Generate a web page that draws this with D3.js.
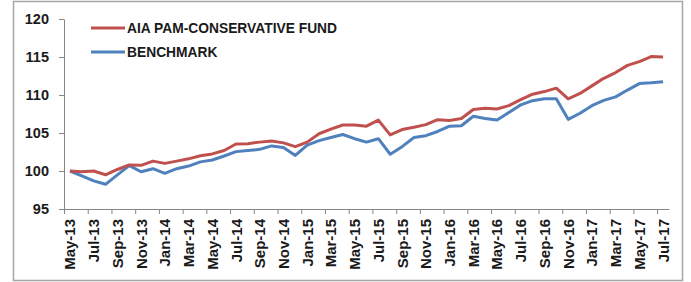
<!DOCTYPE html>
<meta charset="utf-8">
<title>AIA PAM-Conservative Fund</title>
<style>
body { margin: 0; background: #fff; }
#chart svg { display: block; font-family: "Liberation Sans", Arial, sans-serif; font-weight: bold; }
.axis path, .axis line { stroke: #868686; }
.axis text { fill: #1a1a1a; font-weight: bold; }
.line { fill: none; stroke-width: 3; stroke-linejoin: round; }
</style>
<body>
<div id="chart"></div>
<script src="https://cdn.jsdelivr.net/npm/d3@7"></script>
<script>
var months = ["May-13","Jun-13","Jul-13","Aug-13","Sep-13","Oct-13","Nov-13","Dec-13",
  "Jan-14","Feb-14","Mar-14","Apr-14","May-14","Jun-14","Jul-14","Aug-14","Sep-14","Oct-14","Nov-14","Dec-14",
  "Jan-15","Feb-15","Mar-15","Apr-15","May-15","Jun-15","Jul-15","Aug-15","Sep-15","Oct-15","Nov-15","Dec-15",
  "Jan-16","Feb-16","Mar-16","Apr-16","May-16","Jun-16","Jul-16","Aug-16","Sep-16","Oct-16","Nov-16","Dec-16",
  "Jan-17","Feb-17","Mar-17","Apr-17","May-17","Jun-17","Jul-17"];

var fund = [100.0, 99.9, 100.0, 99.5, 100.2, 100.8, 100.75, 101.3, 101.0, 101.3, 101.6, 102.0, 102.25,
  102.7, 103.55, 103.6, 103.8, 103.95, 103.7, 103.2, 103.8, 104.9, 105.5, 106.05, 106.05, 105.9, 106.7,
  104.75, 105.45, 105.75, 106.1, 106.75, 106.65, 106.9, 108.1, 108.25, 108.15, 108.6, 109.4, 110.1,
  110.45, 110.9, 109.5, 110.2, 111.2, 112.2, 112.95, 113.9, 114.4, 115.05, 115.0];

var bench = [100.0, 99.35, 98.7, 98.25, 99.5, 100.7, 99.9, 100.3, 99.7, 100.3, 100.65, 101.2, 101.45,
  101.97, 102.55, 102.7, 102.85, 103.3, 103.1, 102.05, 103.4, 104.0, 104.4, 104.8, 104.25, 103.8, 104.25,
  102.2, 103.2, 104.4, 104.65, 105.2, 105.9, 105.95, 107.2, 106.9, 106.7, 107.7, 108.7, 109.25,
  109.5, 109.5, 106.8, 107.6, 108.6, 109.3, 109.75, 110.65, 111.5, 111.6, 111.75];

var yTicks = [95, 100, 105, 110, 115, 120];

var series = [
  {name: "AIA PAM-CONSERVATIVE FUND", values: fund, color: "#C0504D"},
  {name: "BENCHMARK", values: bench, color: "#4F81BD"}
];

var width = 691, height = 282;
var svg = d3.select("#chart").append("svg")
    .attr("width", width)
    .attr("height", height);

// outer chart frame
svg.append("rect")
    .attr("x", 13.5).attr("y", 1.5)
    .attr("width", 669).attr("height", 279)
    .attr("fill", "#fff")
    .attr("stroke", "#a6a6a6")
    .attr("stroke-width", 1.5);

var x = d3.scaleLinear()
    .domain([-0.5, months.length - 0.5])
    .range([64, 669]);

var y = d3.scaleLinear()
    .domain([95, 120])
    .range([209, 19]);

// y axis
svg.append("g")
    .attr("class", "axis")
    .attr("transform", "translate(64,0)")
    .call(d3.axisLeft(y).tickValues(yTicks).tickSize(5).tickPadding(10).tickSizeOuter(0))
    .selectAll("text")
    .style("font-size", "14.5px");

// x axis: tick marks on category boundaries
var boundaries = d3.range(0, months.length, 2).map(function(i) { return i - 0.5; });
svg.append("g")
    .attr("class", "axis")
    .attr("transform", "translate(0,209)")
    .call(d3.axisBottom(x).tickValues(boundaries).tickFormat("").tickSize(5).tickSizeOuter(0));

// x labels every second month
var labelIdx = d3.range(0, months.length, 2);
svg.append("g")
    .attr("class", "axis")
    .selectAll("text")
    .data(labelIdx)
  .enter().append("text")
    .attr("transform", function(i) { return "translate(" + (x(i) + 5.5) + ",219) rotate(-90)"; })
    .attr("text-anchor", "end")
    .style("font-size", "15px")
    .text(function(i) { return months[i]; });

var line = d3.line()
    .x(function(d, i) { return x(i); })
    .y(function(d) { return y(d); });

// benchmark first so fund draws on top
svg.selectAll(".line")
    .data(series.slice().reverse())
  .enter().append("path")
    .attr("class", "line")
    .attr("d", function(d) { return line(d.values); })
    .style("stroke", function(d) { return d.color; });

// legend
var legend = svg.selectAll(".legend")
    .data(series)
  .enter().append("g")
    .attr("class", "legend")
    .attr("transform", function(d, i) { return "translate(91," + (28 + i * 24) + ")"; });

legend.append("line")
    .attr("x1", 0).attr("x2", 34)
    .attr("stroke", function(d) { return d.color; })
    .attr("stroke-width", 3);

legend.append("text")
    .attr("x", 36)
    .attr("dy", "0.36em")
    .style("font-size", "13.8px")
    .style("fill", "#1a1a1a")
    .text(function(d) { return d.name; });
</script>
</body>
